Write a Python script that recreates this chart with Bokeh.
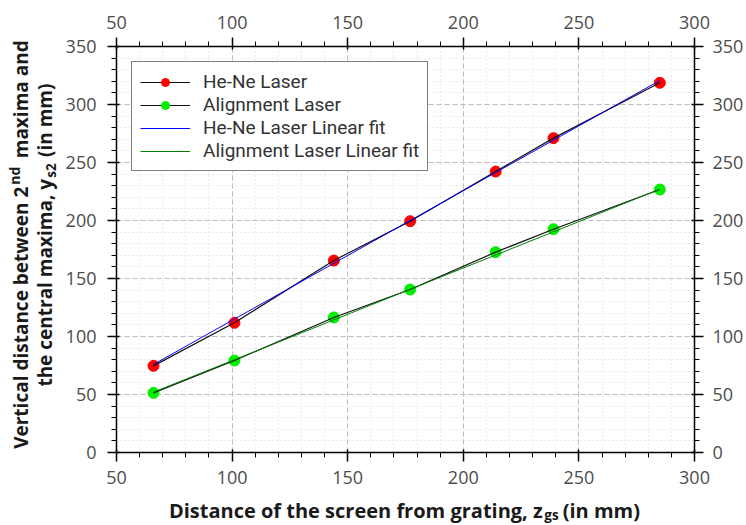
import math
from bokeh.plotting import figure
from bokeh.models import (LinearAxis, SingleIntervalTicker, Range1d, Legend, LegendItem)
from bokeh.layouts import row, column
from bokeh.core.properties import value
from bokeh.embed import file_html
from bokeh.resources import INLINE

# ---- data ----
z_gs = [66, 101, 144, 177, 214, 239, 285]
hene_y = [74.7, 111.8, 165.5, 199.4, 242.2, 271.0, 318.7]
align_y = [51.4, 79.3, 116.4, 140.5, 172.7, 192.5, 226.7]
fit_x = [66, 285]
hene_fit = [75.9, 320.7]
align_fit = [52.0, 227.0]

x_ticks_interval = 50
y_ticks_interval = 50

FONT = "Open Sans"
LEG_FONT = "Roboto"
TICK_COLOR = "#4d4d4d"
LABEL_COLOR = "#1a1a1a"

YLAB_W = 62
XLAB_H = 30
W, H = 746, 525
FL, FR, FT, FB = 115, 694, 46, 452   # frame edges on the page

p = figure(width=W - YLAB_W, height=H - XLAB_H, output_backend="svg", toolbar_location=None,
           x_range=Range1d(50, 300), y_range=Range1d(0, 350),
           min_border_left=FL - YLAB_W, min_border_right=W - FR, min_border_top=FT,
           min_border_bottom=(H - XLAB_H) - FB)
p.title.visible = False
p.background_fill_color = "white"
p.border_fill_color = "white"
p.outline_line_color = None

xt = SingleIntervalTicker(interval=x_ticks_interval, num_minor_ticks=5)
yt = SingleIntervalTicker(interval=y_ticks_interval, num_minor_ticks=5)
bottom_ax = p.xaxis[0]
left_ax = p.yaxis[0]
bottom_ax.ticker = xt
left_ax.ticker = yt

top_ax = LinearAxis(ticker=xt)
right_ax = LinearAxis(ticker=yt)
p.add_layout(top_ax, "above")
p.add_layout(right_ax, "right")

for ax in [bottom_ax, left_ax, top_ax, right_ax]:
    ax.axis_line_color = "black"
    ax.axis_line_width = 1.5
    ax.major_tick_line_color = "black"
    ax.major_tick_line_width = 1.5
    ax.minor_tick_line_color = "black"
    ax.minor_tick_line_width = 1
    ax.major_tick_out = 9
    ax.major_tick_in = 3
    ax.minor_tick_out = 5
    ax.minor_tick_in = 0
    ax.major_label_text_font = FONT
    ax.major_label_text_font_size = "18px"
    ax.major_label_text_color = TICK_COLOR
    ax.major_label_standoff = 9
left_ax.major_label_standoff = 11

for g in [p.xgrid[0], p.ygrid[0]]:
    g.grid_line_color = "#bdbdbd"
    g.grid_line_dash = "5 3"
    g.grid_line_width = 1
    g.minor_grid_line_color = "#d9d9d9"
    g.minor_grid_line_dash = "1 3"
    g.minor_grid_line_width = 1

# ---- series ----
s1 = p.scatter(z_gs, hene_y, size=11, color="#ff0000", line_color="#ff0000")
s2 = p.scatter(z_gs, align_y, size=11, color="#00ee00", line_color="#00ee00")
l1 = p.line(z_gs, hene_y, line_color="#111111", line_width=1.2)
l2 = p.line(z_gs, align_y, line_color="#111111", line_width=1.2)
f1 = p.line(fit_x, hene_fit, line_color="#0000ff", line_width=1)
f2 = p.line(fit_x, align_fit, line_color="#008000", line_width=1)

legend = Legend(items=[
    LegendItem(label="He-Ne Laser", renderers=[l1, s1]),
    LegendItem(label="Alignment Laser", renderers=[l2, s2]),
    LegendItem(label="He-Ne Laser Linear fit", renderers=[f1]),
    LegendItem(label="Alignment Laser Linear fit", renderers=[f2]),
], location="top_left")
legend.margin = 15
legend.padding = 8
legend.spacing = 0
legend.glyph_width = 50
legend.glyph_height = 20
legend.label_height = 20
legend.label_standoff = 13
legend.label_text_font = LEG_FONT
legend.label_text_font_size = "19px"
legend.label_text_line_height = 0.9
legend.label_text_color = "#333333"
legend.border_line_color = "black"
legend.border_line_width = 1.2
legend.background_fill_alpha = 1
p.add_layout(legend)


# ---- axis titles drawn in side canvases (for sub/superscripts) ----
# Their frames line up with the main frame, so ranges are set in page pixels.
def blank(w, h, xr, yr):
    f = figure(width=w, height=h, output_backend="svg", toolbar_location=None,
               x_range=Range1d(*xr), y_range=Range1d(*yr),
               x_axis_type=None, y_axis_type=None,
               min_border_left=0, min_border_right=0, min_border_top=0, min_border_bottom=0)
    f.title.visible = False
    f.outline_line_color = None
    f.background_fill_color = "white"
    f.border_fill_color = "white"
    return f


def piece(f, text, x, y, size, align, angle=0.0):
    f.text(x=[x], y=[y], text=[text], angle=angle,
           text_font=value(FONT), text_font_style="bold", text_font_size=size,
           text_color=LABEL_COLOR, text_align=align, text_baseline="alphabetic")


# y title: x = page x, y = H - page y
ylab = blank(YLAB_W, H, (0, YLAB_W), (H - FB, H - FT))
A = math.pi / 2
piece(ylab, "Vertical distance between 2", 20.4, H - 190, "19px", "right", A)
piece(ylab, "nd", 14.4, H - 188.5, "14px", "left", A)
piece(ylab, "maxima and", 20.4, H - 168, "19px", "left", A)
piece(ylab, "the central maxima, y", 44.4, H - 184, "19px", "right", A)
piece(ylab, "s2", 50.6, H - 183, "13.5px", "left", A)
piece(ylab, "(in mm)", 44.4, H - 167, "19px", "left", A)

# x title: x = page x, y = H - page y
xlab = blank(W - YLAB_W, XLAB_H, (FL, FR), (0, XLAB_H))
piece(xlab, "Distance of the screen from grating, z", 542, H - 509.5, "20px", "right")
piece(xlab, "gs", 543.5, H - 514.6, "13.5px", "left")
piece(xlab, "(in mm)", 562, H - 509.5, "20px", "left")

layout = row(ylab, column(p, xlab, spacing=0), spacing=0)
open("out.html", "w").write(file_html(layout, INLINE))
